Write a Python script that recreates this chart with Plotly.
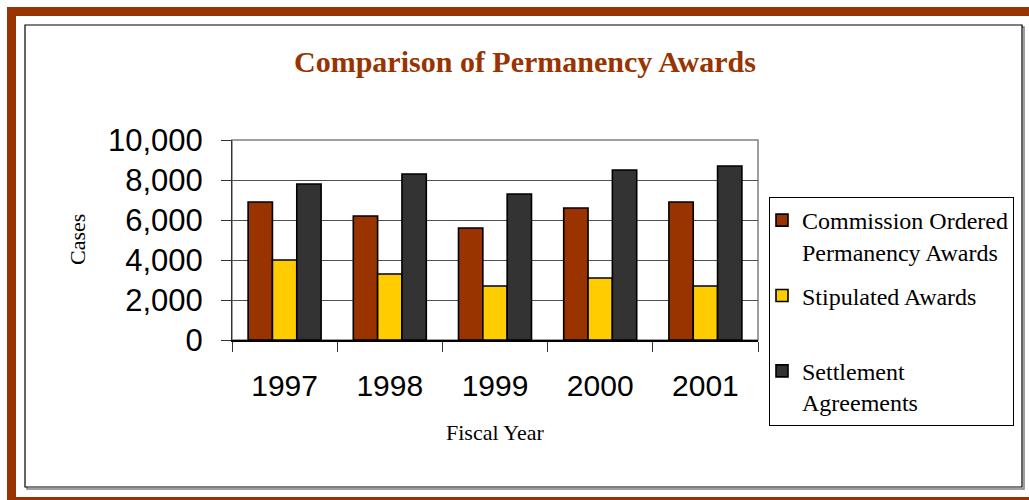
import plotly.graph_objects as go

years = ["1997", "1998", "1999", "2000", "2001"]
commission = [6900, 6200, 5600, 6600, 6900]
stipulated = [4000, 3300, 2700, 3100, 2700]
settlement = [7800, 8300, 7300, 8500, 8700]

series_names = ["Commission Ordered<br>Permanency Awards",
                "Stipulated Awards<br>\u00a0",
                "Settlement<br>Agreements"]
series_colors = ["#993300", "#FFCC00", "#333333"]

W, H = 1029, 500
L, R, T, B = 232, 758, 140, 340  # plot area in pixels
PW, PH = R - L, B - T


def px(x):
    return (x - L) / PW


def py(y):
    return (B - y) / PH


SERIF = "Liberation Serif, Times New Roman, serif"
SANS = "Liberation Sans, Arial, sans-serif"

fig = go.Figure()
for i, (name, vals, col) in enumerate(zip(series_names, [commission, stipulated, settlement], series_colors)):
    fig.add_trace(go.Bar(
        x=years, y=vals, name=name, legendgroup="g%d" % i,
        marker=dict(color=col, line=dict(color="#000000", width=1.6)),
    ))

shapes = []
brown = "#993300"
shapes.append(dict(type="rect", xref="paper", yref="paper", x0=px(7), x1=px(16), y0=py(500), y1=py(7),
                   fillcolor=brown, line=dict(width=0), layer="below"))
shapes.append(dict(type="rect", xref="paper", yref="paper", x0=px(7), x1=px(1029), y0=py(16), y1=py(7),
                   fillcolor=brown, line=dict(width=0), layer="below"))
shapes.append(dict(type="rect", xref="paper", yref="paper", x0=px(7), x1=px(1029), y0=py(500), y1=py(497),
                   fillcolor=brown, line=dict(width=0), layer="below"))
shapes.append(dict(type="rect", xref="paper", yref="paper", x0=px(27), x1=px(1024), y0=py(489), y1=py(27),
                   line=dict(color="#808080", width=1.5), layer="below"))
shapes.append(dict(type="rect", xref="paper", yref="paper", x0=px(25), x1=px(1022), y0=py(487), y1=py(25),
                   fillcolor="white", line=dict(color="#000000", width=1.2), layer="below"))
shapes.append(dict(type="rect", xref="paper", yref="paper", x0=0, x1=1, y0=0, y1=1,
                   line=dict(color="#808080", width=1.5), layer="below"))

annotations = [
    dict(text="Cases", xref="paper", yref="paper", x=px(77), y=py(240), showarrow=False,
         textangle=-90, font=dict(family=SERIF, size=22, color="#000000"), xanchor="center", yanchor="middle"),
    dict(text="Fiscal Year", xref="paper", yref="paper", x=px(495), y=py(432), showarrow=False,
         font=dict(family=SERIF, size=22, color="#000000"), xanchor="center", yanchor="middle"),
]

fig.update_layout(
    width=W, height=H,
    margin=dict(l=L, r=W - R, t=T, b=H - B, pad=0),
    paper_bgcolor="white",
    plot_bgcolor="#C0C0C0",
    barmode="group",
    bargap=0.306,
    bargroupgap=0,
    title=dict(text="<b>Comparison of Permanency Awards</b>", xref="container", yref="container",
               x=525 / W, y=1 - 61 / H, xanchor="center", yanchor="middle",
               font=dict(family=SERIF, size=30, color=brown)),
    xaxis=dict(
        type="category", showgrid=False, showline=True, linecolor="#000000", linewidth=2,
        ticks="outside", tickson="boundaries", ticklen=10, tickcolor="#333333", tickwidth=1,
        tickfont=dict(family=SANS, size=30, color="#000000"), ticklabelstandoff=18,
        fixedrange=True,
    ),
    yaxis=dict(
        range=[0, 10000], dtick=2000, tickformat=",", showgrid=True, gridcolor="#505050", gridwidth=1,
        showline=True, linecolor="#333333", linewidth=1, zeroline=False,
        ticks="outside", ticklen=10, tickcolor="#333333", tickwidth=1,
        tickfont=dict(family=SANS, size=31, color="#000000"), ticklabelstandoff=12,
        fixedrange=True,
    ),
    legend=dict(
        x=px(769), y=py(197), xanchor="left", yanchor="top",
        bgcolor="white", bordercolor="#000000", borderwidth=1,
        font=dict(family=SERIF, size=24, color="#000000"),
        valign="top", traceorder="grouped", tracegroupgap=10, indentation=-8,
        maxheight=400,
    ),
    shapes=shapes,
    annotations=annotations,
    showlegend=True,
)

fig.write_html("out.html", config={"displayModeBar": False},
               post_script="document.body.style.margin='0';document.body.style.overflow='hidden';")
